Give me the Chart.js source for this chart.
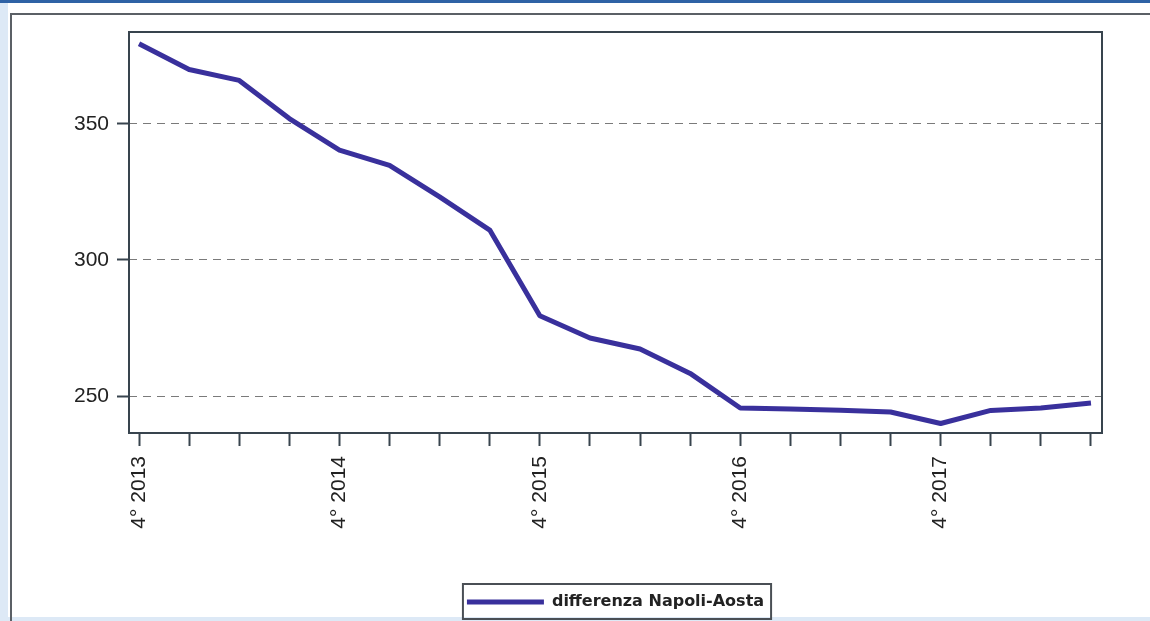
<!DOCTYPE html>
<html>
<head>
<meta charset="utf-8">
<script src="https://cdn.jsdelivr.net/npm/chart.js@4.4.0/dist/chart.umd.min.js"></script>
<style>
  html, body { margin: 0; padding: 0; }
  body { width: 1150px; height: 621px; overflow: hidden; position: relative; background: #dde9f6; }
  #topbar { position: absolute; left: 0; top: 0; width: 1150px; height: 3px; background: #2f62a5; }
  #panel { position: absolute; left: 8px; top: 3px; width: 1142px; height: 614px; background: #fff; }
  #frame { position: absolute; left: 10px; top: 13px; width: 1150px; height: 640px;
           border-left: 2px solid #5b6066; border-top: 2px solid #5b6066; }
  #chart { position: absolute; left: 0; top: 0; }
</style>
</head>
<body>
<div id="topbar"></div>
<div id="panel"></div>
<div id="frame"></div>
<canvas id="chart" width="1150" height="621"></canvas>
<script>
// Quarterly data, 4th quarter 2013 to 3rd quarter 2018
const categories = [
    '4° 2013', '1° 2014', '2° 2014', '3° 2014',
    '4° 2014', '1° 2015', '2° 2015', '3° 2015',
    '4° 2015', '1° 2016', '2° 2016', '3° 2016',
    '4° 2016', '1° 2017', '2° 2017', '3° 2017',
    '4° 2017', '1° 2018', '2° 2018', '3° 2018'
];
const values = [
    379.5, 370, 366, 352,
    340.4, 334.8, 323.2, 311,
    279.5, 271.3, 267.3, 258.3,
    245.6, 245.2, 244.8, 244.1,
    239.9, 244.7, 245.6, 247.4
];
const yTicks = [250, 300, 350];
const seriesName = 'differenza Napoli-Aosta';

const lineColor = '#39309c';
const axisColor = '#38444e';
const tickFont = { family: 'Liberation Sans', size: 21 };

// Box round the plot area
const plotFrame = {
    id: 'plotFrame',
    afterDatasetsDraw(chart) {
        const { ctx, chartArea: a } = chart;
        ctx.save();
        ctx.strokeStyle = axisColor;
        ctx.lineWidth = 2;
        ctx.strokeRect(a.left, a.top, a.right - a.left, a.bottom - a.top);
        ctx.restore();
    }
};

// Box round the legend
const legendFrame = {
    id: 'legendFrame',
    afterDraw(chart) {
        const hb = chart.legend.legendHitBoxes[0];
        if (!hb) return;
        const ctx = chart.ctx;
        ctx.save();
        ctx.strokeStyle = '#4a4f55';
        ctx.lineWidth = 2;
        ctx.strokeRect(hb.left - 4, hb.top + hb.height / 2 - 18, hb.width + 11, 35);
        ctx.restore();
    }
};

const ctx1 = document.getElementById('chart').getContext('2d');
const diffChart = new Chart(ctx1, {
    type: 'line',
    data: {
        datasets: [{
            label: seriesName,
            data: values.map((v, i) => ({ x: i, y: v })),
            borderColor: lineColor,
            backgroundColor: lineColor,
            borderWidth: 5,
            borderJoinStyle: 'round',
            pointRadius: 0,
            tension: 0
        }]
    },
    options: {
        responsive: false,
        animation: false,
        layout: { padding: { top: 32, right: 48, bottom: 1, left: 0 } },
        scales: {
            x: {
                type: 'linear',
                min: -0.2,
                max: 19.22,
                afterBuildTicks: scale => {
                    scale.ticks = categories.map((c, i) => ({ value: i }));
                },
                afterFit: scale => { scale.height = 140; },
                ticks: {
                    autoSkip: false,
                    minRotation: 90,
                    maxRotation: 90,
                    padding: 10,
                    color: '#222',
                    font: tickFont,
                    callback: value => {
                        const label = categories[value];
                        return label && label.startsWith('4°') ? label : '';
                    }
                },
                grid: {
                    drawOnChartArea: false,
                    tickLength: 13,
                    tickWidth: 2,
                    tickColor: axisColor
                },
                border: { display: false }
            },
            y: {
                min: 236.4,
                max: 383.8,
                afterBuildTicks: scale => {
                    scale.ticks = yTicks.map(v => ({ value: v }));
                },
                afterFit: scale => { scale.width = 129; },
                ticks: {
                    padding: 8,
                    color: '#222',
                    font: tickFont
                },
                grid: {
                    color: '#7a7a7a',
                    lineWidth: 1,
                    tickLength: 12,
                    tickWidth: 2,
                    tickColor: axisColor
                },
                border: { display: false, dash: [8, 6] }
            }
        },
        plugins: {
            legend: {
                position: 'bottom',
                fullSize: false,
                labels: {
                    usePointStyle: true,
                    pointStyle: 'line',
                    pointStyleWidth: 77,
                    padding: 21,
                    color: '#222',
                    font: { family: 'DejaVu Sans', size: 16, weight: 'bold' }
                }
            },
            tooltip: { enabled: false }
        }
    },
    plugins: [plotFrame, legendFrame]
});
</script>
</body>
</html>
